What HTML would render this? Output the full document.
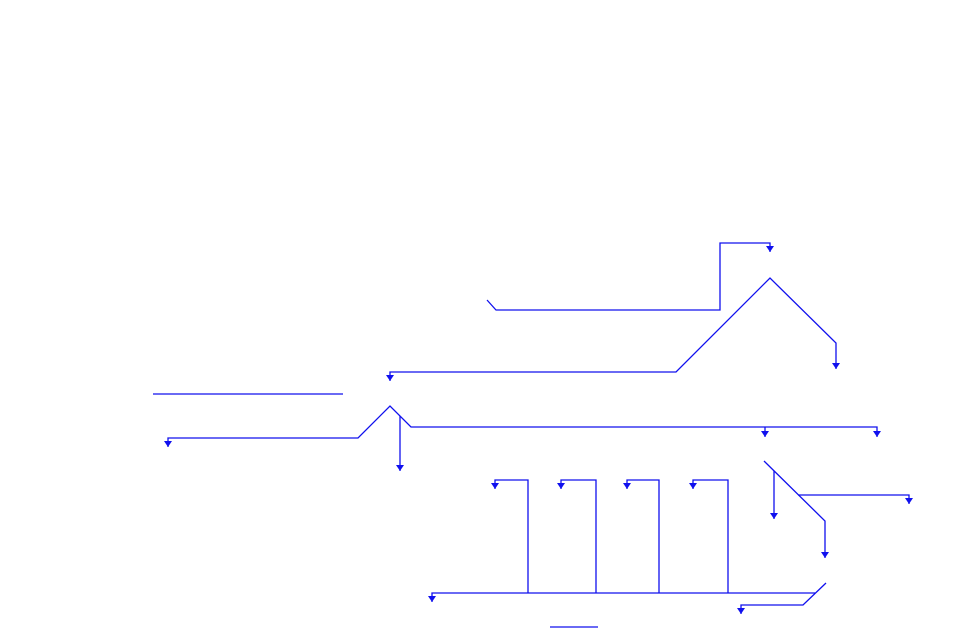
<!DOCTYPE html>
<html><head><style>body{margin:0;background:#fff}svg{display:block}</style></head><body>
<svg width="960" height="640" xmlns="http://www.w3.org/2000/svg">
<defs><marker id="a" markerWidth="8" markerHeight="6" refX="4" refY="5" orient="auto-start-reverse" markerUnits="userSpaceOnUse" viewBox="0 0 8 6"><path d="M0,0 L8,0 L4,6 Z" fill="#1010ee" transform="rotate(-90 4 3)"/></marker>
<marker id="d" markerWidth="8" markerHeight="6" refX="4" refY="6" markerUnits="userSpaceOnUse" viewBox="0 0 8 6"><path d="M0,0 L8,0 L4,6 Z" fill="#1010ee"/></marker></defs>
<g fill="none" stroke="#1010ee" stroke-width="1.3">
<polyline points="487,300 496,310 720,310 720,243 770,243 770,252" marker-end="url(#d)"/>
<polyline points="390,381 390,372 676,372 770,278 836,343 836,369" marker-start="url(#d)" marker-end="url(#d)"/>
<line x1="153" y1="394" x2="343" y2="394"/>
<polyline points="168,447 168,438 358,438 390,406 411,427 877,427 877,437" marker-start="url(#d)" marker-end="url(#d)"/>
<polyline points="765,427 765,437" marker-end="url(#d)"/>
<polyline points="400,416 400,471" marker-end="url(#d)"/>
<polyline points="432,602 432,593 815,593"  marker-start="url(#d)"/>
<polyline points="528,593 528,480 495,480 495,489" marker-end="url(#d)"/>
<polyline points="596,593 596,480 561,480 561,489" marker-end="url(#d)"/>
<polyline points="659,593 659,480 627,480 627,489" marker-end="url(#d)"/>
<polyline points="728,593 728,480 693,480 693,489" marker-end="url(#d)"/>
<polyline points="764,461 825,521 825,558" marker-end="url(#d)"/>
<polyline points="774,471 774,519" marker-end="url(#d)"/>
<polyline points="798,495 909,495 909,504" marker-end="url(#d)"/>
<polyline points="826,583 803,605 741,605 741,614" marker-end="url(#d)"/>
<line x1="550" y1="627" x2="598" y2="627"/>
</g>
</svg>
</body></html>
